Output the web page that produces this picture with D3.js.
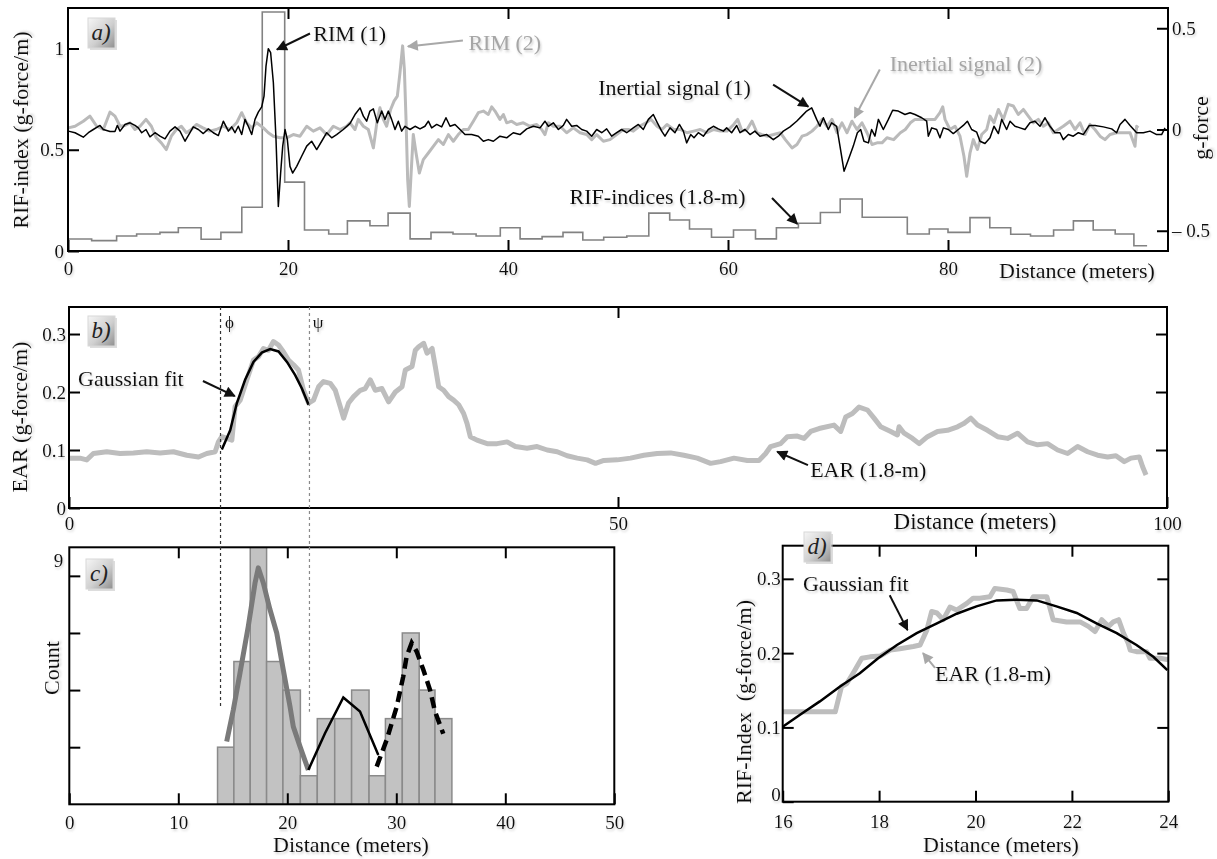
<!DOCTYPE html>
<html>
<head>
<meta charset="utf-8">
<script src="https://cdn.jsdelivr.net/npm/d3@7"></script>
<style>
  body { margin: 0; background: #fff; }
  text { font-family: 'Liberation Serif', 'Times New Roman', serif; }
</style>
</head>
<body>
<div id="chart"></div>
<script>
const SERIF = "'Liberation Serif', 'Times New Roman', serif";

// ---- panel a: RIF-index steps (start of each window, value) ----
const rifStart = [0, 2.15, 4.42, 6.24, 8.36, 10.03, 12.1, 13.9, 15.8, 17.66,
    19.7, 21.5, 23.7, 25.4, 27.45, 29.1, 31.1, 33.0, 35.0, 37.1,
    39.3, 41.1, 43.1, 45.0, 46.8, 48.7, 50.8, 52.8, 54.7, 56.5,
    58.5, 60.5, 62.5, 64.4, 66.4, 68.4, 70.2, 72.2, 76.3, 78.3,
    80.0, 82.0, 83.8, 85.7, 87.5, 89.6, 91.4, 93.2, 95.2, 96.9];
const rifEnd = 98.1;
const rifValue = [0.059, 0.051, 0.074, 0.084, 0.092, 0.115, 0.058, 0.092, 0.216, 1.18,
    0.34, 0.104, 0.084, 0.149, 0.125, 0.187, 0.06, 0.092, 0.084, 0.074,
    0.115, 0.06, 0.071, 0.092, 0.054, 0.068, 0.074, 0.187, 0.153, 0.109,
    0.068, 0.104, 0.06, 0.115, 0.137, 0.19, 0.257, 0.167, 0.084, 0.109,
    0.092, 0.165, 0.115, 0.083, 0.074, 0.104, 0.149, 0.104, 0.084, 0.026];

// ---- panel a: inertial signals [distance m, g-force] ----
const signal1 = [[0.03,-0.008],[0.64,-0.016],[1.39,-0.038],[1.85,-0.016],[2.30,0],[2.91,0.020],[3.21,0],[3.82,-0.010],[4.27,-0.010],[4.48,0.020],
    [4.73,-0.008],[5.18,0.025],[5.64,0.033],[6.09,0.020],[6.39,0.008],[6.70,-0.016],[7.09,0],[7.45,-0.036],[7.91,-0.016],[8.36,-0.033],
    [8.82,-0.046],[9.27,-0.008],[9.73,0.013],[10.18,-0.008],[10.64,-0.058],[11.09,-0.016],[11.39,0.013],[11.85,0],[12.30,-0.020],[12.76,0.003],
    [13.21,-0.016],[13.67,-0.030],[14.12,0.041],[14.58,-0.008],[14.88,0.013],[15.18,-0.016],[15.48,0.016],[15.79,-0.025],[16.09,0.050],[16.39,0.016],
    [16.70,-0.025],[17.00,0.050],[17.30,0.086],[17.61,0.112],[17.82,0.165],[18.00,0.313],[18.21,0.399],[18.42,0.380],[18.67,0.231],[18.91,-0.050],
    [19.12,-0.380],[19.33,-0.215],[19.52,-0.082],[19.73,0],[19.94,-0.050],[20.18,-0.182],[20.42,-0.215],[20.79,-0.182],[21.24,-0.132],[21.70,-0.082],
    [22.15,-0.058],[22.61,-0.099],[23.06,-0.058],[23.52,-0.016],[23.97,-0.041],[24.42,-0.025],[25.03,0],[25.64,0.030],[26.09,0.074],[26.55,0.107],
    [26.85,0.066],[27.15,0.041],[27.45,0.091],[27.76,0.102],[28.12,0.033],[28.52,0.091],[28.82,0.050],[29.12,0.091],[29.42,0.050],[29.73,0],
    [30.03,0.041],[30.33,-0.008],[30.64,0.016],[31.09,0],[31.55,0.016],[32.00,0.003],[32.45,0.016],[32.76,0.041],[33.06,0.008],[33.52,0.025],
    [33.97,0.013],[34.36,0.058],[34.73,0.016],[35.18,0.025],[35.64,0],[36.09,-0.025],[36.70,-0.025],[37.30,-0.033],[37.76,-0.058],[38.21,-0.050],
    [38.67,-0.058],[39.27,-0.033],[39.88,-0.041],[40.48,-0.016],[41.09,-0.025],[41.70,0.003],[42.30,0.016],[42.91,0.008],[43.36,0.041],[43.67,0.016],
    [44.12,0.033],[44.58,0],[45.03,0.020],[45.33,0.050],[45.79,0.016],[46.24,0.020],[46.70,0],[47.15,-0.008],[47.61,-0.033],[48.06,0],
    [48.52,-0.016],[48.97,0.003],[49.42,-0.033],[49.88,-0.016],[50.33,0],[50.79,-0.016],[51.39,0.008],[51.85,0.025],[52.30,0],[52.76,0.050],
    [53.21,0.074],[53.58,0.033],[53.97,-0.008],[54.27,-0.033],[54.73,0.008],[55.18,-0.016],[55.58,0.025],[55.94,-0.008],[56.24,-0.066],[56.61,-0.025],
    [56.91,-0.041],[57.30,-0.016],[57.76,-0.033],[58.21,0],[58.67,0.016],[59.12,0.003],[59.58,-0.008],[59.88,0.008],[60.33,-0.016],[60.79,0.020],
    [61.09,-0.016],[61.55,0],[62.00,-0.025],[62.45,-0.008],[62.91,-0.033],[63.52,-0.025],[64.12,-0.050],[64.58,-0.033],[65.03,-0.008],[65.64,0.013],
    [66.24,0.041],[66.70,0.066],[67.15,0.091],[67.61,0.107],[68.06,0.050],[68.36,0.016],[68.67,0.058],[69.12,0],[69.42,0.033],[69.88,0.016],
    [70.18,-0.082],[70.55,-0.206],[70.94,-0.149],[71.39,-0.082],[71.76,-0.016],[72.06,0],[72.36,-0.058],[72.76,-0.066],[73.06,0],[73.36,-0.033],
    [73.67,0.050],[74.12,0],[74.58,0.050],[74.97,0.095],[75.48,0.091],[76.09,0.074],[76.55,0.083],[77.00,0.074],[77.61,0.058],[78.06,0.041],
    [78.21,-0.033],[78.52,0.008],[78.97,0],[79.27,-0.041],[79.58,0.008],[80.03,0],[80.48,-0.020],[80.94,0],[81.39,0.020],[81.76,0.041],
    [82.15,0],[82.61,-0.013],[82.91,-0.058],[83.36,-0.069],[83.82,-0.041],[84.18,0.016],[84.58,-0.020],[84.88,0.050],[85.33,0],[85.64,0.041],
    [86.09,0.016],[86.55,0.008],[87.00,0],[87.45,0.033],[87.91,0.041],[88.36,0.016],[88.82,0.058],[89.27,0.016],[89.73,-0.016],[90.18,-0.016],
    [90.48,-0.050],[90.94,-0.025],[91.39,-0.033],[91.85,-0.016],[92.30,-0.025],[92.85,0.020],[93.36,0.020],[94.12,0.013],[94.88,0.003],[95.33,-0.016],
    [95.64,0.025],[96.09,0.050],[96.55,0.020],[97.15,-0.016],[97.76,-0.016],[98.36,-0.008],[98.97,-0.025],[99.42,-0.025],[99.73,0.008]];

const signal2 = [[0.03,0.008],[0.64,0.016],[1.39,0.041],[1.99,0.066],[2.61,0.016],[3.21,0],[3.82,0.086],[4.27,0.066],[4.73,0.016],[5.18,0.020],
    [5.64,0.033],[6.09,0],[6.55,0.016],[7.09,0.050],[7.58,0.016],[8.03,-0.041],[8.48,-0.066],[8.94,-0.099],[9.39,-0.033],[9.85,0],
    [10.30,0.016],[10.76,-0.016],[11.21,0],[11.67,0.025],[12.27,0.008],[12.88,-0.008],[13.48,0],[14.12,0.016],[14.73,0],[15.33,0.033],
    [15.79,0.083],[16.24,0.033],[16.70,0.008],[17.15,0.033],[17.76,0.008],[18.21,-0.016],[18.67,-0.033],[19.27,-0.041],[19.88,-0.041],[20.48,-0.025],
    [21.09,-0.033],[21.70,0.016],[22.30,-0.008],[22.91,0.008],[23.52,-0.025],[24.12,0.016],[24.73,0],[25.33,0.016],[25.64,0.033],[26.09,0],
    [26.39,0.050],[26.85,0.016],[27.30,0],[27.76,-0.091],[28.12,0.050],[28.36,0.107],[28.67,0.050],[28.97,0.016],[29.33,0.099],[29.64,0.140],
    [29.94,0.165],[30.18,0.281],[30.42,0.413],[30.58,0.297],[30.73,0.050],[30.88,-0.248],[31.03,-0.380],[31.21,-0.198],[31.39,-0.025],[31.64,-0.116],
    [31.94,-0.215],[32.30,-0.149],[32.76,-0.116],[33.21,-0.083],[33.67,-0.050],[34.12,-0.074],[34.58,-0.025],[35.03,-0.058],[35.48,-0.025],[35.94,0],
    [36.39,0],[36.85,0.041],[37.30,0.083],[37.76,0.091],[38.21,0.074],[38.52,0.112],[38.82,0.091],[39.27,0.050],[39.58,0.074],[39.88,0.033],
    [40.33,0.041],[40.79,0.025],[41.39,0.033],[42.00,0.016],[42.61,0.025],[43.06,0],[43.36,-0.025],[43.67,0.033],[44.12,0.016],[44.73,0.016],
    [45.33,-0.016],[45.94,0.008],[46.55,-0.016],[47.15,-0.025],[47.61,-0.050],[48.06,-0.025],[48.67,-0.058],[49.27,-0.050],[49.88,-0.025],[50.48,0],
    [50.94,0],[51.39,-0.008],[51.94,0.016],[52.55,0.033],[53.00,0.050],[53.55,0.016],[54.00,0],[54.45,0.025],[55.06,0],[55.67,0],
    [56.27,-0.016],[56.88,-0.008],[57.48,0],[58.09,-0.016],[58.70,0],[59.30,-0.008],[59.91,-0.008],[60.52,0.025],[60.88,0.050],[61.27,-0.008],
    [61.73,0],[62.18,0.041],[62.64,-0.016],[63.09,-0.025],[63.55,-0.033],[64.15,-0.025],[64.76,-0.016],[65.21,-0.050],[65.82,-0.091],[66.27,-0.074],
    [66.73,-0.033],[67.18,-0.025],[67.64,-0.008],[68.09,0.016],[68.55,0.050],[69.00,0.016],[69.45,0.050],[69.91,-0.016],[70.36,0.033],[70.82,-0.016],
    [71.27,0.041],[71.73,0],[72.18,0.033],[72.64,-0.016],[73.09,-0.074],[73.55,-0.066],[74.00,-0.066],[74.45,-0.041],[75.06,-0.050],[75.67,-0.016],
    [76.12,0],[76.58,0.033],[77.00,0.050],[77.61,0.050],[78.36,0.050],[78.82,0.050],[79.27,0.083],[79.52,0.112],[79.73,0.050],[80.18,0],
    [80.64,0.016],[81.09,-0.033],[81.45,-0.132],[81.70,-0.231],[82.00,-0.116],[82.30,-0.050],[82.67,-0.099],[83.06,-0.025],[83.52,0],[83.82,0.066],
    [84.18,0.033],[84.58,0.099],[85.03,0.050],[85.48,0.124],[85.94,0.116],[86.39,0.074],[86.85,0.099],[87.30,0.066],[87.76,0.033],[88.21,0.050],
    [88.67,0.016],[89.12,0.033],[89.58,-0.016],[90.03,0],[90.48,0.016],[91.09,0.041],[91.55,0],[92.00,0.033],[92.45,-0.025],[92.91,0.025],
    [93.36,0],[93.82,-0.033],[94.27,-0.050],[94.73,-0.025],[95.33,-0.016],[95.94,-0.016],[96.55,-0.016],[97.00,-0.083],[97.15,0.016],[97.30,0.008]];

// ---- panel b: EAR (1.8-m) and Gaussian fit [distance m, g-force/m] ----
const earB = [[0.09,0.086],[1.0,0.086],[1.61,0.083],[2.22,0.094],[3.44,0.097],[4.65,0.094],[5.86,0.095],[7.08,0.097],[8.30,0.095],[9.51,0.097],
    [10.73,0.091],[11.79,0.088],[12.55,0.094],[13.31,0.097],[13.61,0.114],[13.92,0.123],[14.38,0.120],[14.83,0.117],[15.13,0.175],[15.59,0.186],
    [16.20,0.221],[16.80,0.255],[17.26,0.261],[17.71,0.275],[18.17,0.272],[18.62,0.287],[19.08,0.281],[19.54,0.269],[19.99,0.255],[20.45,0.247],
    [20.90,0.238],[21.36,0.203],[21.82,0.181],[22.27,0.186],[22.73,0.209],[23.18,0.218],[23.79,0.215],[24.25,0.203],[24.70,0.175],[25.01,0.155],
    [25.46,0.181],[25.92,0.192],[26.53,0.203],[26.98,0.206],[27.44,0.221],[27.89,0.203],[28.50,0.206],[29.11,0.183],[29.72,0.200],[30.33,0.209],
    [30.63,0.238],[31.24,0.244],[31.54,0.272],[31.85,0.278],[32.30,0.284],[32.61,0.267],[33.07,0.275],[33.36,0.244],[33.67,0.209],[34.12,0.203],
    [34.58,0.192],[35.03,0.186],[35.49,0.178],[35.94,0.163],[36.25,0.146],[36.55,0.123],[37.16,0.117],[38.08,0.111],[38.99,0.111],[39.90,0.114],
    [40.66,0.106],[41.72,0.103],[42.63,0.106],[43.55,0.100],[44.46,0.097],[45.37,0.090],[46.28,0.086],[47.19,0.083],[47.95,0.077],[48.71,0.082],
    [49.93,0.083],[51.14,0.086],[52.35,0.091],[53.57,0.094],[54.79,0.095],[56.00,0.091],[57.22,0.086],[58.43,0.077],[59.34,0.080],[60.56,0.086],
    [61.78,0.082],[62.84,0.082],[63.45,0.094],[63.90,0.106],[64.81,0.111],[65.42,0.123],[66.33,0.124],[66.94,0.120],[67.55,0.132],[68.31,0.137],
    [69.67,0.143],[70.28,0.132],[70.74,0.157],[71.35,0.163],[71.95,0.174],[72.72,0.169],[73.32,0.155],[73.93,0.140],[74.84,0.132],[75.45,0.126],
    [75.60,0.140],[76.06,0.129],[76.82,0.120],[77.43,0.111],[78.19,0.123],[79.10,0.132],[80.01,0.134],[80.92,0.140],[81.53,0.146],[82.13,0.155],
    [82.74,0.143],[83.65,0.134],[84.57,0.123],[85.48,0.120],[86.39,0.129],[87.30,0.114],[88.21,0.109],[89.12,0.111],[90.04,0.100],[90.95,0.094],
    [91.86,0.106],[92.77,0.097],[93.68,0.091],[94.59,0.088],[95.35,0.090],[96.11,0.080],[96.72,0.086],[97.48,0.088],[97.78,0.071],[98.09,0.057]];
const gaussB = [[13.92,0.101],[14.68,0.134],[15.29,0.181],[16.04,0.221],[16.80,0.252],[17.56,0.268],[18.32,0.274],[19.08,0.270],[19.85,0.252],[20.60,0.229],[21.21,0.206],[21.82,0.178]];
const phiAt = 13.8, psiAt = 21.9;

// ---- panel c: histogram and fits ----
const binEdges = [13.6, 15.1, 16.6, 18.1, 19.6, 21.2, 22.75, 24.35, 25.9, 27.5, 29.0, 30.55, 32.1, 33.55, 35.1];
const binCounts = [2, 5, 9, 5, 4, 1, 3, 3, 4, 1, 3, 6, 4, 3];
const fitGray = [[14.44,2.2],[15.05,3.31],[15.66,4.6],[16.42,6.23],[17.04,7.75],[17.34,8.28],[17.8,7.75],[18.41,6.82],[19.03,6.0],[19.63,4.71],[20.25,3.42],[20.55,2.72],[21.17,2.02],[21.93,1.2]];
const fitSolid = [[21.93,1.2],[23.46,2.49],[25.14,3.74],[26.67,3.25],[28.35,1.73]];
const fitDashed = [[28.2,1.32],[29.12,2.26],[30.04,3.42],[30.64,4.48],[30.95,5.18],[31.41,5.65],[31.87,5.35],[32.48,4.71],[33.09,4.01],[33.55,3.25],[34.31,2.47]];

// ---- panel d: close-up of the first bump ----
const gaussD = [[16.0,0.101],[16.36,0.117],[16.77,0.135],[17.19,0.155],[17.60,0.173],[17.98,0.193],[18.37,0.211],[18.78,0.227],[19.20,0.240],[19.61,0.253],
    [20.02,0.263],[20.44,0.271],[20.85,0.272],[21.27,0.271],[21.68,0.263],[22.10,0.254],[22.51,0.240],[22.93,0.227],[23.34,0.211],[23.69,0.195],[23.98,0.177]];
const earD = [[16.0,0.121],[16.36,0.121],[16.64,0.121],[17.09,0.121],[17.22,0.155],[17.33,0.159],[17.46,0.173],[17.64,0.193],[17.81,0.195],[18.02,0.196],
    [18.23,0.204],[18.43,0.206],[18.71,0.209],[18.85,0.211],[18.99,0.231],[19.09,0.256],[19.20,0.254],[19.33,0.245],[19.47,0.262],[19.61,0.258],
    [19.82,0.267],[19.95,0.274],[20.09,0.274],[20.30,0.276],[20.40,0.287],[20.65,0.285],[20.78,0.283],[20.92,0.260],[21.06,0.260],[21.20,0.276],
    [21.48,0.276],[21.61,0.245],[21.89,0.242],[22.17,0.242],[22.34,0.236],[22.48,0.229],[22.62,0.245],[22.76,0.236],[22.86,0.242],[22.97,0.245],
    [23.07,0.227],[23.17,0.213],[23.21,0.204],[23.34,0.202],[23.55,0.202],[23.62,0.193],[23.83,0.193],[24.0,0.191]];

// ---- setup ----
const svg = d3.select('#chart').append('svg')
    .attr('width', 1217)
    .attr('height', 859)
    .style('background', '#fff');
const defs = svg.append('defs');

let grad = defs.append('linearGradient').attr('id', 'tagGrad')
    .attr('x1', 0).attr('y1', 0).attr('x2', 1).attr('y2', 1);
grad.append('stop').attr('offset', '0%').attr('stop-color', '#f6f6f6');
grad.append('stop').attr('offset', '55%').attr('stop-color', '#cfcfcf');
grad.append('stop').attr('offset', '100%').attr('stop-color', '#8e8e8e');

defs.append('filter').attr('id', 'soft')
    .attr('x', '-10%').attr('y', '-20%').attr('width', '130%').attr('height', '160%')
    .append('feDropShadow')
    .attr('dx', 1).attr('dy', 2).attr('stdDeviation', 1.2)
    .attr('flood-color', '#999').attr('flood-opacity', 0.45);

['#111', '#a8a8a8'].forEach((c, i) => {
    defs.append('marker')
        .attr('id', 'arrow' + i)
        .attr('viewBox', '0 0 10 10')
        .attr('refX', 9).attr('refY', 5)
        .attr('markerWidth', 15).attr('markerHeight', 11)
        .attr('markerUnits', 'userSpaceOnUse')
        .attr('orient', 'auto')
        .append('path')
        .attr('d', 'M0,0L10,5L0,10Z')
        .attr('fill', c);
});

function clip(id, x, y) {
    defs.append('clipPath').attr('id', id).append('rect')
        .attr('x', x.range()[0]).attr('y', y.range()[1])
        .attr('width', x.range()[1] - x.range()[0])
        .attr('height', y.range()[0] - y.range()[1]);
    return svg.append('g').attr('clip-path', `url(#${id})`);
}

function frame(x, y) {
    svg.append('rect')
        .attr('x', x.range()[0]).attr('y', y.range()[1])
        .attr('width', x.range()[1] - x.range()[0])
        .attr('height', y.range()[0] - y.range()[1])
        .attr('fill', 'none')
        .attr('stroke', '#000')
        .attr('stroke-width', 2);
}

function drawAxis(gen, tx, ty) {
    let a = svg.append('g')
        .attr('transform', `translate(${tx},${ty})`)
        .call(gen);
    a.attr('font-family', SERIF).attr('font-size', 19);
    a.select('.domain').remove();
    a.selectAll('.tick line').attr('stroke', '#000').attr('stroke-width', 2);
    a.selectAll('.tick text').attr('fill', '#111').attr('filter', 'url(#soft)');
    return a;
}

function label(x, y, txt, opts) {
    opts = opts || {};
    let t = svg.append('text')
        .attr('x', x).attr('y', y)
        .attr('font-size', opts.size || 22)
        .attr('fill', opts.color || '#111')
        .attr('text-anchor', opts.anchor || 'start')
        .attr('filter', 'url(#soft)')
        .style('white-space', 'pre')
        .text(txt);
    if (opts.rotate) {
        t.attr('x', 0).attr('y', 0)
            .attr('text-anchor', 'middle')
            .attr('transform', `translate(${x},${y}) rotate(-90)`);
    }
    return t;
}

function arrow(x1, y1, x2, y2, gray) {
    svg.append('line')
        .attr('x1', x1).attr('y1', y1).attr('x2', x2).attr('y2', y2)
        .attr('stroke', gray ? '#a8a8a8' : '#111')
        .attr('stroke-width', 2)
        .attr('marker-end', `url(#arrow${gray ? 1 : 0})`);
}

function tag(x, y, txt) {
    let g = svg.append('g').attr('transform', `translate(${x},${y})`);
    g.append('rect').attr('x', 2).attr('y', 2).attr('width', 27).attr('height', 30)
        .attr('fill', '#bbb').attr('opacity', 0.5);
    g.append('rect').attr('width', 27).attr('height', 30)
        .attr('fill', 'url(#tagGrad)').attr('stroke', '#d8d8d8');
    g.append('text').attr('x', 13).attr('y', 22)
        .attr('text-anchor', 'middle')
        .attr('font-style', 'italic')
        .attr('font-size', 23)
        .attr('fill', '#222')
        .text(txt);
}

// ================= panel a =================
const xA = d3.scaleLinear().domain([0, 100]).range([68, 1168]);
const yL = d3.scaleLinear().domain([0, 1.2]).range([251, 8]);
const yR = d3.scaleLinear().domain([-0.6, 0.6]).range([251, 8]);

let plotA = clip('clipA', xA, yL);
let rifData = rifStart.map((s, i) => [s, rifValue[i]]).concat([[rifEnd, rifValue[rifValue.length - 1]]]);
plotA.append('path')
    .attr('d', d3.line().x(d => xA(d[0])).y(d => yL(d[1])).curve(d3.curveStepAfter)(rifData))
    .attr('fill', 'none').attr('stroke', '#828282').attr('stroke-width', 1.6);

let sigLine = d3.line().x(d => xA(d[0])).y(d => yR(d[1]));
plotA.append('path').attr('d', sigLine(signal2))
    .attr('fill', 'none').attr('stroke', '#bababa').attr('stroke-width', 3).attr('stroke-linejoin', 'round');
plotA.append('path').attr('d', sigLine(signal1))
    .attr('fill', 'none').attr('stroke', '#000').attr('stroke-width', 1.5).attr('stroke-linejoin', 'round');

frame(xA, yL);
drawAxis(d3.axisBottom(xA).tickValues([0, 20, 40, 60, 80]).tickSize(-11).tickPadding(11), 0, yL(0));
drawAxis(d3.axisTop(xA).tickValues([20, 40, 60, 80]).tickSize(-11).tickFormat(''), 0, yL(1.2));
drawAxis(d3.axisLeft(yL).tickValues([0, 0.5, 1]).tickSize(-11).tickPadding(4).tickFormat(d => String(d)), xA(0), 0);
drawAxis(d3.axisRight(yR).tickValues([-0.5, 0, 0.5]).tickSize(-11).tickPadding(4)
    .tickFormat(d => d < 0 ? '\u2013 0.5' : String(d)), xA(100), 0);

label(28, 130, 'RIF-index (g-force/m)', { rotate: true });
label(1208, 128, 'g-force', { rotate: true });
label(xA(98.8), 278, 'Distance (meters)', { anchor: 'end' });
tag(88, 18, 'a)');

label(xA(22.3), yL(1.035), 'RIM (1)');
arrow(xA(22.0), yL(1.074), xA(19.0), yL(0.995));
label(xA(36.4), yL(0.995), 'RIM (2)', { color: '#a6a6a6' });
arrow(xA(35.9), yL(1.04), xA(30.9), yL(1.01), true);
label(xA(48.2), yL(0.772), 'Inertial signal (1)');
arrow(xA(64.1), yL(0.822), xA(67.3), yL(0.713));
label(xA(74.7), yL(0.891), 'Inertial signal (2)', { color: '#a6a6a6' });
arrow(xA(73.8), yL(0.896), xA(71.5), yL(0.658), true);
label(xA(45.6), yL(0.233), 'RIF-indices (1.8-m)');
arrow(xA(64.0), yL(0.262), xA(66.3), yL(0.134));

// ================= panel b =================
const xB = d3.scaleLinear().domain([0, 100]).range([69, 1167]);
const yB = d3.scaleLinear().domain([0, 0.3466]).range([508, 307]);

let plotB = clip('clipB', xB, yB);
let lineB = d3.line().x(d => xB(d[0])).y(d => yB(d[1]));
plotB.append('path').attr('d', lineB(earB))
    .attr('fill', 'none').attr('stroke', '#bdbdbd').attr('stroke-width', 5).attr('stroke-linejoin', 'round');
plotB.append('path').attr('d', lineB(gaussB))
    .attr('fill', 'none').attr('stroke', '#000').attr('stroke-width', 2.5);

frame(xB, yB);
drawAxis(d3.axisBottom(xB).tickValues([0, 50, 100]).tickSize(-11).tickPadding(9), 0, yB(0));
drawAxis(d3.axisTop(xB).tickValues([50]).tickSize(-11).tickFormat(''), 0, yB.range()[1]);
drawAxis(d3.axisLeft(yB).tickValues([0, 0.1, 0.2, 0.3]).tickSize(-11).tickPadding(3).tickFormat(d => String(d)), xB(0), 0);
drawAxis(d3.axisRight(yB).tickValues([0.1, 0.2, 0.3]).tickSize(-11).tickFormat(''), xB(100), 0);

label(27, 417, 'EAR (g-force/m)', { rotate: true });
label(975, 529, 'Distance (meters)', { anchor: 'middle', size: 23 });
tag(88, 316, 'b)');
label(xB(14.2), yB(0.31), '\u03d5', { size: 17 });
label(xB(22.2), yB(0.31), '\u03c8', { size: 17 });
label(xB(0.82), yB(0.21), 'Gaussian fit');
arrow(xB(12.2), yB(0.219), xB(15.1), yB(0.193));
label(xB(67.5), yB(0.053), 'EAR (1.8-m)');
arrow(xB(67.3), yB(0.074), xB(64.5), yB(0.097));

// ================= panel c =================
const xC = d3.scaleLinear().domain([0, 50]).range([69.3, 614.3]);
const yC = d3.scaleLinear().domain([0, 9]).range([804.3, 547.3]);

let plotC = clip('clipC', xC, yC);
plotC.selectAll('rect.bar')
    .data(binCounts)
    .enter().append('rect')
    .classed('bar', true)
    .attr('x', (d, i) => xC(binEdges[i]))
    .attr('width', (d, i) => xC(binEdges[i + 1]) - xC(binEdges[i]))
    .attr('y', d => yC(d))
    .attr('height', d => yC(0) - yC(d))
    .attr('fill', '#c2c2c2')
    .attr('stroke', '#8a8a8a')
    .attr('stroke-width', 1.5);

let lineC = d3.line().x(d => xC(d[0])).y(d => yC(d[1]));
plotC.append('path').attr('d', lineC(fitGray))
    .attr('fill', 'none').attr('stroke', '#7a7a7a').attr('stroke-width', 5).attr('stroke-linejoin', 'round');
plotC.append('path').attr('d', lineC(fitSolid))
    .attr('fill', 'none').attr('stroke', '#000').attr('stroke-width', 2.5);
plotC.append('path').attr('d', lineC(fitDashed))
    .attr('fill', 'none').attr('stroke', '#000').attr('stroke-width', 4.5).attr('stroke-dasharray', '11,6');

frame(xC, yC);
drawAxis(d3.axisBottom(xC).tickValues([0, 10, 20, 30, 40, 50]).tickSize(-11).tickPadding(11), 0, yC(0));
drawAxis(d3.axisTop(xC).tickValues([10, 20, 30, 40]).tickSize(-11).tickFormat(''), 0, yC(9));
drawAxis(d3.axisLeft(yC).tickValues([2, 4, 6, 8]).tickSize(-11).tickFormat(''), xC(0), 0);
label(xC(0) - 6, yC(9) + 20, '9', { size: 19, anchor: 'end' });

label(59, 668, 'Count', { rotate: true });
label(351, 852, 'Distance (meters)', { anchor: 'middle' });
tag(86, 559, 'c)');

// phi / psi guide lines across panels b and c
[[phiAt, '#333'], [psiAt, '#8a8a8a']].forEach(([m, c], i) => {
    svg.append('line')
        .attr('x1', xB(m)).attr('x2', xB(m))
        .attr('y1', yB.range()[1]).attr('y2', yC(i === 0 ? 3.38 : 3.24))
        .attr('stroke', c).attr('stroke-width', 1.2).attr('stroke-dasharray', '3,3');
});

// ================= panel d =================
const xD = d3.scaleLinear().domain([16, 24]).range([782.7, 1168.3]);
const yD = d3.scaleLinear().domain([0, 0.3446]).range([801.7, 545.7]);

let plotD = clip('clipD', xD, yD);
let lineD = d3.line().x(d => xD(d[0])).y(d => yD(d[1]));
plotD.append('path').attr('d', lineD(earD))
    .attr('fill', 'none').attr('stroke', '#bdbdbd').attr('stroke-width', 5).attr('stroke-linejoin', 'round');
plotD.append('path').attr('d', lineD(gaussD))
    .attr('fill', 'none').attr('stroke', '#000').attr('stroke-width', 2.5);

frame(xD, yD);
drawAxis(d3.axisBottom(xD).tickValues([16, 18, 20, 22, 24]).tickSize(-11).tickPadding(13), 0, yD(0));
drawAxis(d3.axisTop(xD).tickValues([18, 20, 22]).tickSize(-11).tickFormat(''), 0, yD.range()[1]);
let leftD = drawAxis(d3.axisLeft(yD).tickValues([0, 0.1, 0.2, 0.3]).tickSize(-11).tickPadding(2).tickFormat(d => String(d)), xD(16), 0);
// lift the "0" label a little so it clears the "16" below it
leftD.selectAll('.tick text').filter(d => d === 0).attr('dy', '-0.05em');
drawAxis(d3.axisRight(yD).tickValues([0.1, 0.2, 0.3]).tickSize(-11).tickFormat(''), xD(24), 0);

label(751, 702, 'RIF-Index\u00a0 (g-force/m)', { rotate: true, size: 22 });
label(1001, 852, 'Distance (meters)', { anchor: 'middle' });
tag(804, 532, 'd)');
label(xD(16.42), yD(0.284), 'Gaussian fit');
arrow(xD(18.22), yD(0.278), xD(18.59), yD(0.231));
label(xD(19.16), yD(0.162), 'EAR (1.8-m)');
arrow(xD(19.16), yD(0.18), xD(18.91), yD(0.2), true);
</script>
</body>
</html>
